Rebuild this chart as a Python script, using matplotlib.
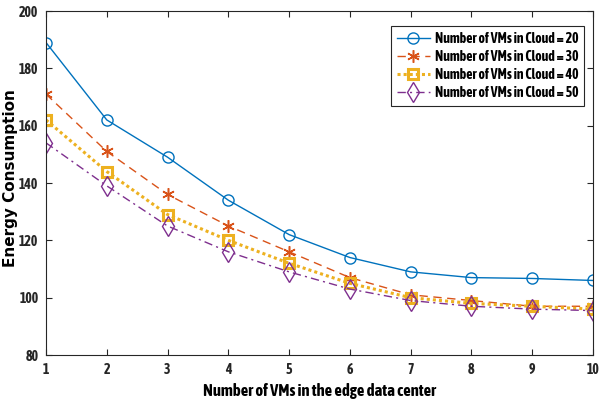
import matplotlib
matplotlib.use("Agg")
import matplotlib.pyplot as plt
from matplotlib import font_manager
from matplotlib.font_manager import FontProperties

# ---- data ----
x = [1, 2, 3, 4, 5, 6, 7, 8, 9, 10]
vm20 = [189, 162, 149, 134, 122, 114, 109, 107, 106.7, 106]
vm30 = [171, 151, 136, 125, 116, 107, 101, 99, 97, 97]
vm40 = [162, 144, 129, 120, 112, 105, 100, 98, 97, 96]
vm50 = [154, 139, 125, 116, 109, 103, 99, 97, 96, 95.5]
labels = ["Number of VMs in Cloud = 20", "Number of VMs in Cloud = 30",
          "Number of VMs in Cloud = 40", "Number of VMs in Cloud = 50"]
yticks = [80, 100, 120, 140, 160, 180, 200]

# ---- fonts: a narrow bold sans for horizontal text ----
def find_font(prefs):
    fl = font_manager.fontManager.ttflist
    for name, key in prefs:
        for f in fl:
            fn = f.fname.split('/')[-1]
            if f.name == name and key in fn:
                return f.fname
    return None

narrow = find_font([("Asap Condensed", "AsapCondensed-Bold."),
                    ("Barlow Condensed", "BarlowCondensed-SemiBold.")])

def fp(size):
    if narrow:
        return FontProperties(fname=narrow, size=size)
    return FontProperties(family="Liberation Sans", weight="bold", size=size * 0.8)

plt.rcParams['font.family'] = ["Liberation Sans", "DejaVu Sans"]

fig = plt.figure(figsize=(5.99, 4.03), dpi=100)
ax = fig.add_axes([0.0768, 0.1191, 0.9132, 0.8536])

ax.plot(x, vm20, color="#0072BD", linestyle="-", lw=1.0, marker="o", ms=8,
        mfc="none", mec="#0072BD", mew=1.0, label=labels[0])
ax.plot(x, vm30, color="#D95319", linestyle=(0, (6, 4)), lw=1.0, marker=(6, 2, 0), ms=9,
        mfc="none", mec="#D95319", mew=1.1, label=labels[1])
ax.plot(x, vm40, color="#EDB120", linestyle=(0, (1, 1)), lw=2.2, marker="s", ms=6.5,
        mfc="none", mec="#EDB120", mew=2.2, label=labels[2])
ax.plot(x, vm50, color="#7E2F8E", linestyle=(0, (6, 3, 1.5, 3)), lw=1.0, marker="d", ms=10,
        mfc="none", mec="#7E2F8E", mew=1.0, label=labels[3])

ax.set_xlim(1, 10)
ax.set_ylim(80, 200)
ax.set_xticks(x)
ax.set_yticks(yticks)
for s in ax.spines.values():
    s.set_color("#262626")
    s.set_linewidth(0.8)
ax.tick_params(direction="in", length=4, width=0.8, colors="#262626",
               top=True, right=True)
ax.tick_params(axis="x", pad=5.5)
ax.tick_params(axis="y", pad=5.5)
for t in ax.get_xticklabels() + ax.get_yticklabels():
    t.set_fontproperties(fp(10))

ax.set_xlabel("Number of VMs in the edge data center", fontproperties=fp(12))
ax.xaxis.set_label_coords(0.5, -0.08)
ax.xaxis.label.set_va("top")
ax.set_ylabel("Energy Consumption", family="DejaVu Sans", fontweight="bold", fontsize=11)
ax.yaxis.set_label_coords(-0.0506, 0.513)

leg = ax.legend(loc="upper right", bbox_to_anchor=(0.9835, 0.956), borderaxespad=0,
                prop=fp(10), frameon=True, fancybox=False, framealpha=1,
                edgecolor="#262626", handlelength=2.4, borderpad=0.4, labelspacing=0.3,
                handletextpad=0.35)
leg.get_frame().set_linewidth(0.8)

fig.savefig("out.png", dpi=100)
